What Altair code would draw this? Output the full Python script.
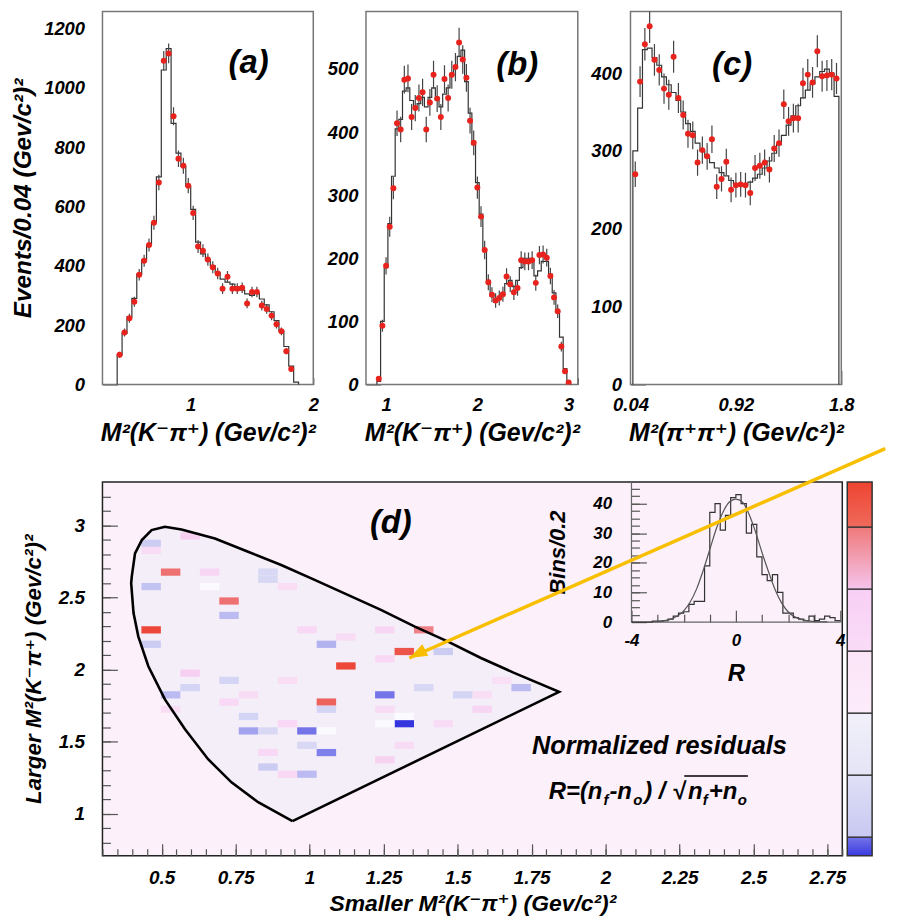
import altair as alt
import pandas as pd

FONT = "Liberation Sans, Arial, Helvetica, DejaVu Sans, sans-serif"
TICK = "#555555"
RED = "#e8231d"
GOLD = "#f7bf00"
LBL = "'' + datum.value"

# ---------------- values ----------------
# (a) M^2(K- pi+) projection, bins of 0.04
A_START, A_BIN = 0.40, 0.04
A_COUNTS = [100, 175, 223, 279, 370, 417, 470, 545, 681, 1091, 1116, 904, 761, 737,
            670, 578, 465, 451, 421, 395, 374, 323, 363, 323, 323, 326, 273, 312,
            312, 266, 254, 232, 203, 179, 112, 52]
A_FIT = [100, 172, 228, 290, 372, 420, 470, 545, 700, 1060, 1132, 880, 780, 735,
         668, 590, 480, 440, 420, 400, 378, 355, 345, 338, 328, 318, 305, 300,
         308, 288, 268, 245, 215, 180, 128, 62, 8]

# (b) M^2(K- pi+) (larger) projection
B_START, B_BIN = 0.90, 0.04
B_COUNTS = [9, 93, 188, 250, 311, 414, 404, 483, 485, 424, 438, 454, 463, 404, 447,
            491, 453, 424, 484, 454, 491, 503, 542, 515, 486, 418, 383, 312, 266,
            213, 162, 142, 133, 137, 143, 171, 159, 146, 153, 197, 195, 195, 197,
            161, 205, 206, 201, 172, 138, 116, 60, 21, 3]
B_FIT = [5, 100, 185, 255, 330, 405, 420, 465, 470, 450, 440, 445, 455, 440, 455,
         470, 450, 440, 460, 470, 490, 505, 520, 530, 480, 430, 380, 320, 270,
         215, 165, 140, 130, 135, 145, 160, 165, 155, 165, 185, 200, 200, 195,
         172, 180, 195, 195, 175, 145, 115, 75, 25, 2]

# (c) M^2(pi+ pi+) projection
C_START, C_BIN = 0.06, 0.04
C_COUNTS = [270, 389, 437, 460, 417, 404, 380, 372, 421, 368, 346, 322, 320, 285,
            301, 293, 315, 254, 264, 286, 250, 256, 257, 256, 246, 278, 281, 285,
            276, 303, 310, 360, 338, 342, 342, 387, 398, 388, 428, 396, 397, 398, 393]
C_FIT = [300, 355, 430, 432, 420, 410, 395, 385, 375, 365, 350, 335, 325, 310, 300,
         292, 285, 278, 272, 268, 262, 258, 256, 257, 260, 265, 270, 278, 287, 297,
         308, 320, 333, 345, 358, 368, 378, 386, 395, 402, 405, 400, 370]

# (d) residual cells: column / row index of the 2-D binning and residual R
D_X0, D_DX = 0.30, 0.0658
D_Y0, D_DY = 0.70, 0.05
CELL_COL = [3, 2, 6, 12, 11, 15, 16, 14, 15, 10, 11, 7, 5, 11, 14, 15,
            4, 2, 5, 9, 10, 12, 14, 14, 4, 9, 6, 7, 3, 9, 14, 19, 19, 17, 15, 8, 14, 9, 20,
            2, 2, 8, 8, 6, 11, 2, 3, 4, 21, 17, 11, 8, 8, 10, 6, 7, 18, 16, 10]
CELL_ROW = [39, 31, 35, 26, 21, 28, 31, 22, 18, 17, 14, 17, 37, 17, 18, 19,
            44, 42, 39, 37, 31, 30, 31, 27, 25, 24, 21, 22, 20, 18, 20, 20, 22, 18, 15, 14, 13, 11, 24,
            43, 37, 39, 38, 33, 29, 29, 22, 23, 23, 28, 20, 17, 12, 11, 24, 19, 22, 23, 15]
CELL_R = [3.0, 3.6, 3.0, 3.6, 3.2, 3.4, 2.8, -2.05, -2.3, -2.05, -2.0, -1.6, 0, 0, 0, 0,
          1.6, 1.2, 1.4, 1.1, 1.3, 1.2, 1.4, 1.3, 1.6, 1.1, 1.3, 1.2, 1.1, 1.3, 1.2, 1.4, 1.1, 1.2, 1.2, 1.3, 1.5, 1.3, 1.0,
          -1.1, -1.2, -0.9, -0.9, -1.3, -1.4, -1.1, -1.3, -1.0, -1.3, -1.1, -1.0, -0.9, -1.1, -1.3, -1.0, -1.0, -1.0, -0.9, -0.9]

# Dalitz boundary
DP_X = [0.942, 0.826, 0.736, 0.657, 0.579, 0.511, 0.455, 0.421, 0.405, 0.397, 0.399,
        0.410, 0.433, 0.466, 0.511, 0.567, 0.680, 0.792, 0.904, 1.017, 1.129, 1.241,
        1.354, 1.466, 1.579, 1.691, 1.843, 0.942]
DP_Y = [0.950, 1.081, 1.219, 1.379, 1.586, 1.793, 2.023, 2.230, 2.391, 2.598, 2.644,
        2.805, 2.897, 2.966, 2.989, 2.970, 2.908, 2.816, 2.724, 2.621, 2.517, 2.414,
        2.299, 2.195, 2.080, 1.977, 1.846, 0.950]
RG_X = [0.397, 0.405, 0.421, 0.455, 0.511, 0.579, 0.657, 0.736, 0.826, 0.942, 1.10, 1.30, 1.50, 1.70, 1.843]
RG_LO = [2.60, 2.39, 2.23, 2.02, 1.79, 1.59, 1.38, 1.22, 1.08, 0.95, 1.11, 1.31, 1.51, 1.70, 1.846]
RG_HI = [2.66, 2.78, 2.86, 2.95, 2.99, 2.97, 2.92, 2.86, 2.79, 2.70, 2.54, 2.36, 2.16, 1.97, 1.846]

# inset: distribution of R, bins of 0.2
I_START, I_BIN = -4.0, 0.2
I_COUNTS = [0, 0, 0, 0, 0.3, 0.3, 0.5, 1, 2, 3, 3.5, 6, 7, 7, 19, 37, 40, 31, 36, 42,
            43, 40, 30, 33, 22, 16, 14, 16, 10, 3, 3, 1.5, 1, 0.5, 2, 0.5, 1, 2, 1.5, 0.5]
G_X = [-3.3, -3.0, -2.5, -2.0, -1.75, -1.5, -1.25, -1.0, -0.75, -0.5, -0.25, 0.0,
       0.25, 0.5, 0.75, 1.0, 1.25, 1.5, 1.75, 2.0, 2.5, 3.0, 3.5]
G_Y = [0.0, 0.2, 1.0, 3.8, 6.8, 11.3, 17.5, 24.5, 31.5, 37.0, 40.5, 41.5, 40.5, 36.5,
       30.5, 23.5, 17.0, 11.0, 6.5, 3.5, 0.9, 0.2, 0.05]

# colour palette (residual levels)
R_DOMAIN = [-2.3, -2.0, -1.0, 0.0, 1.0, 2.0, 3.0, 3.73]
R_COLORS = ["#3535e0", "#8080ea", "#d4d4f4", "#fbfaff", "#f9e0f6", "#f5c6ee", "#ee7070", "#ec3e2c"]
CB_EDGES = [-2.3, -2, -1, 0, 1, 2, 3, 3.73]
CB_BOTTOM = ["#3a3ae2", "#c8c8f2", "#e4e4f6", "#fcecfa", "#f9dcf7", "#f5c4ec", "#ef6a5c"]
CB_TOP = ["#7474e8", "#e0e0f6", "#f1f0fa", "#fbe4f8", "#f8cff5", "#ef7a7a", "#ee4431"]


# ---------------- helpers ----------------
def axis(orient, values, size, offset=None, labels=True, title=None, lpad=4, tpad=4, **kw):
    off = -size if offset is None else offset
    return alt.Axis(orient=orient, values=values, tickSize=size, offset=off, domain=False,
                    grid=False, labels=labels, title=title, labelPadding=lpad,
                    titlePadding=tpad, labelExpr=LBL, labelFlush=False, labelOverlap=False,
                    tickColor=TICK, tickWidth=1.2, **kw)


def step_frame(start, binw, vals, close=True):
    xs, ys = ([start], [0]) if close else ([], [])
    for i, v in enumerate(vals):
        xs.append(start + binw * i)
        ys.append(v)
    end = start + binw * len(vals)
    xs.append(end)
    ys.append(vals[-1])
    if close:
        xs.append(end)
        ys.append(0)
    return pd.DataFrame({"x": xs, "y": ys, "o": list(range(len(xs)))})


def text_style(size):
    return dict(font=FONT, fontSize=size, fontWeight="bold", fontStyle="italic", color="black")


TOP_LBL = dict(labelFontSize=18.5)
TOP_TTL = dict(titleFontSize=25)


def hist_panel(start, binw, counts, fit, xdom, ydom, xr, xmaj, xmin, xmaj_size,
               ymaj, ymin, ylpad, xtitle, tag, tag_x, tag_y, ytitle=None, ytpad=8):
    x0 = xr[0]
    pts = pd.DataFrame({"x": [start + binw * (i + 0.5) for i in range(len(counts))], "n": counts})
    stp = step_frame(start, binw, fit)
    xs = alt.Scale(domain=xdom, range=list(xr), nice=False, zero=False)
    ys = alt.Scale(domain=ydom, nice=False, zero=False)
    frame = alt.Chart(pd.DataFrame({"x": [xdom[0]], "x2": [xdom[1]], "y": [ydom[0]], "y2": [ydom[1]]})
                      ).mark_rect(fill="white", stroke="#777777", strokeWidth=1.5).encode(
        x=alt.X("x:Q", scale=xs, axis=None), x2="x2:Q",
        y=alt.Y("y:Q", scale=ys, axis=None), y2="y2:Q")
    line = alt.Chart(stp).mark_line(interpolate="step-after", color="#333333", strokeWidth=1.2).encode(
        x=alt.X("x:Q", scale=xs, axis=axis("bottom", xmaj, xmaj_size, title=xtitle, lpad=11, tpad=7,
                                            **TOP_LBL, **TOP_TTL)),
        y=alt.Y("y:Q", scale=ys, axis=axis("left", ymaj, 15, offset=-(x0 + 15), title=ytitle,
                                            lpad=ylpad, tpad=ytpad, titleFontSize=24.5, **TOP_LBL)),
        order="o:Q")
    err = alt.Chart(pts).transform_calculate(
        lo="datum.n - sqrt(datum.n)", hi="datum.n + sqrt(datum.n)"
    ).mark_rule(color="#444444", strokeWidth=1.2, clip=True).encode(
        x=alt.X("x:Q", scale=xs, axis=None),
        y=alt.Y("lo:Q", scale=ys, axis=None), y2="hi:Q")
    dots = alt.Chart(pts).mark_circle(color=RED, size=36, opacity=1, clip=True).encode(
        x=alt.X("x:Q", scale=xs, axis=axis("bottom", xmin, 7, labels=False)),
        y=alt.Y("n:Q", scale=ys, axis=axis("left", ymin, 8, offset=-(x0 + 8), labels=False)))
    lab = alt.Chart(pd.DataFrame({"x": [tag_x], "y": [tag_y], "t": [tag]})).mark_text(
        align="center", baseline="middle", **text_style(33)).encode(
        x=alt.X("x:Q", scale=xs, axis=None), y=alt.Y("y:Q", scale=ys, axis=None), text="t:N")
    return alt.layer(frame, line, err, dots, lab).resolve_axis(x="independent", y="independent")


MK = "M²(K⁻π⁺) (Gev/c²)²"
pa = hist_panel(A_START, A_BIN, A_COUNTS, A_FIT, [0.28, 2.0], [0, 1257], (0, 212),
                [1, 2], [0.4, 0.6, 0.8, 1.2, 1.4, 1.6, 1.8], 7,
                [0, 200, 400, 600, 800, 1000, 1200], [v for v in range(50, 1251, 50)], 18,
                MK, "(a)", 1.472, 1083, ytitle="Events/0.04 (Gev/c²)²", ytpad=8)
pb = hist_panel(B_START, B_BIN, B_COUNTS, B_FIT, [0.78, 3.10], [0, 591], (265, 478),
                [1, 2, 3], [round(0.8 + 0.1 * i, 1) for i in range(24)], 9,
                [0, 100, 200, 300, 400, 500], [v for v in range(20, 591, 20)], 8,
                MK, "(b)", 2.437, 506)
pc = hist_panel(C_START, C_BIN, C_COUNTS, C_FIT, [0.04, 1.80], [0, 479], (531, 743),
                [0.04, 0.92, 1.8], [0.48, 1.36], 14,
                [0, 100, 200, 300, 400], [v for v in range(25, 476, 25)], 9,
                "M²(π⁺π⁺) (Gev/c²)²", "(c)", 0.888, 410)

top = alt.layer(pa, pb, pc).resolve_scale(x="independent", y="independent").properties(
    width=743, height=375, view=alt.ViewBackground(fill="white", stroke="white", strokeWidth=0))

# ---------------- panel (d) ----------------
dxs = alt.Scale(domain=[0.3, 2.8], nice=False, zero=False)
dys = alt.Scale(domain=[0.71, 3.30], nice=False, zero=False)

cells_df = pd.DataFrame({
    "x0": [D_X0 + D_DX * c for c in CELL_COL], "x1": [D_X0 + D_DX * (c + 1) for c in CELL_COL],
    "y0": [D_Y0 + D_DY * r for r in CELL_ROW], "y1": [D_Y0 + D_DY * (r + 1) for r in CELL_ROW],
    "r": CELL_R})
region_df = pd.DataFrame({"x": RG_X, "lo": RG_LO, "hi": RG_HI})
path_df = pd.DataFrame({"x": DP_X, "y": DP_Y, "o": list(range(len(DP_X)))})

D_XMAJ = [0.5, 0.75, 1, 1.25, 1.5, 1.75, 2, 2.25, 2.5, 2.75]
D_XMIN = [round(0.3 + 0.05 * i, 2) for i in range(51)]
D_YMAJ = [1, 1.5, 2, 2.5, 3]
D_YMIN = [round(0.8 + 0.1 * i, 1) for i in range(26)]

region = alt.Chart(region_df).mark_area(color="#f4eef9").encode(
    x=alt.X("x:Q", scale=dxs, axis=None), y=alt.Y("hi:Q", scale=dys, axis=None), y2="lo:Q")
cells = alt.Chart(cells_df).mark_rect().encode(
    x=alt.X("x0:Q", scale=dxs, axis=axis("bottom", D_XMAJ, 12, lpad=13, tpad=5,
                                          title="Smaller M²(K⁻π⁺) (Gev/c²)²",
                                          labelFontSize=19, titleFontSize=23)),
    x2="x1:Q",
    y=alt.Y("y0:Q", scale=dys, axis=axis("left", D_YMAJ, 15, lpad=18, tpad=13,
                                          title="Larger M²(K⁻π⁺) (Gev/c²)²",
                                          labelFontSize=19, titleFontSize=22.5)),
    y2="y1:Q",
    color=alt.Color("r:Q", scale=alt.Scale(domain=R_DOMAIN, range=R_COLORS, interpolate="rgb"), legend=None))
boundary = alt.Chart(path_df).mark_line(color="black", strokeWidth=2.6).encode(
    x=alt.X("x:Q", scale=dxs, axis=axis("bottom", D_XMIN, 7, labels=False)),
    y=alt.Y("y:Q", scale=dys, axis=axis("left", D_YMIN, 8, labels=False)),
    order="o:Q")


def dtext(x, y, t, size, align="center", baseline="middle", dx=0, dy=0):
    return alt.Chart(pd.DataFrame({"x": [x], "y": [y], "t": [t]})).mark_text(
        align=align, baseline=baseline, dx=dx, dy=dy, **text_style(size)).encode(
        x=alt.X("x:Q", scale=dxs, axis=None), y=alt.Y("y:Q", scale=dys, axis=None), text="t:N")


texts = [dtext(1.2745, 3.013, "(d)", 33), dtext(2.182, 1.469, "Normalized residuals", 25.5)]
FORMULA = [("R=(n", 0, 0, 24), ("f", 55, 6, 15), ("-n", 61, 0, 24), ("o", 85, 6, 15),
           (") / √", 96, 0, 24), ("n", 140, 0, 24), ("f", 155, 6, 15), ("+n", 161, 0, 24),
           ("o", 190, 6, 15)]
for t, ddx, ddy, sz in FORMULA:
    texts.append(dtext(1.808, 1.103, t, sz, align="left", baseline="alphabetic", dx=ddx, dy=ddy))
overline = alt.Chart(pd.DataFrame({"x": [2.266], "x2": [2.481], "y": [1.262]})).mark_rule(
    color="black", strokeWidth=1.5).encode(
    x=alt.X("x:Q", scale=dxs, axis=None), x2="x2:Q", y=alt.Y("y:Q", scale=dys, axis=None))

main = alt.layer(region, cells, boundary, *texts, overline).resolve_axis(x="independent", y="independent")

# inset
ixs = alt.Scale(domain=[-4, 4], range=[532, 742], nice=False, zero=False)
iys = alt.Scale(domain=[0, 47.3], range=[141, 0], nice=False, zero=False)
frame_df = pd.DataFrame({"x": [-4, -4], "x2": [-4, 4], "y": [0, 0], "y2": [47.3, 0]})
iframe = alt.Chart(frame_df).mark_rule(color="#666666", strokeWidth=1.2).encode(
    x=alt.X("x:Q", scale=ixs, axis=None), x2="x2:Q",
    y=alt.Y("y:Q", scale=iys, axis=None), y2="y2:Q")
ihist = alt.Chart(step_frame(I_START, I_BIN, I_COUNTS, close=False)).mark_line(
    interpolate="step-after", color="#333333", strokeWidth=1.2).encode(
    x=alt.X("x:Q", scale=ixs, axis=axis("bottom", [-4, 0, 4], 12, offset=-247, lpad=11, tpad=13,
                                         title="R", labelFontSize=17, titleFontSize=24)),
    y=alt.Y("y:Q", scale=iys, axis=axis("left", [0, 10, 20, 30, 40], 15, offset=-547, lpad=20,
                                         tpad=23, title="Bins/0.2", labelFontSize=17, titleFontSize=22)),
    order="o:Q")
igauss = alt.Chart(pd.DataFrame({"x": G_X, "y": G_Y})).mark_line(
    interpolate="monotone", color="#555555", strokeWidth=1.2).encode(
    x=alt.X("x:Q", scale=ixs, axis=axis("bottom", [-3, -2, -1, 1, 2, 3], 8, offset=-243, labels=False)),
    y=alt.Y("y:Q", scale=iys, axis=axis("left", [2.5 * k for k in range(1, 19)], 8, offset=-540,
                                         labels=False)))
inset = alt.layer(iframe, ihist, igauss).resolve_axis(x="independent", y="independent")

# colour bar, drawn to the right of panel (d)
cbs = alt.Scale(domain=[CB_EDGES[0], CB_EDGES[-1]], nice=False, zero=False)
cbx = alt.Scale(domain=[0, 1], range=[749, 774])
cb_layers = []
for i in range(len(CB_BOTTOM)):
    seg = pd.DataFrame({"l": [0], "r": [1], "lo": [CB_EDGES[i]], "hi": [CB_EDGES[i + 1]]})
    grad = alt.LinearGradient(gradient="linear", x1=0, x2=0, y1=1, y2=0,
                              stops=[alt.GradientStop(color=CB_BOTTOM[i], offset=0),
                                     alt.GradientStop(color=CB_TOP[i], offset=1)])
    cb_layers.append(alt.Chart(seg).mark_rect(fill=grad, strokeWidth=0).encode(
        x=alt.X("l:Q", scale=cbx, axis=None), x2="r:Q",
        y=alt.Y("lo:Q", scale=cbs, axis=None), y2="hi:Q"))
cb_sep = alt.Chart(pd.DataFrame({"v": CB_EDGES[1:-1], "l": [0] * 6, "r": [1] * 6})).mark_rule(
    color="#333333", strokeWidth=1.5).encode(
    x=alt.X("l:Q", scale=cbx, axis=None), x2="r:Q", y=alt.Y("v:Q", scale=cbs, axis=None))
cb_box = alt.Chart(pd.DataFrame({"l": [0], "r": [1], "lo": [CB_EDGES[0]], "hi": [CB_EDGES[-1]]})).mark_rect(
    fillOpacity=0, stroke="#333333", strokeWidth=1.5).encode(
    x=alt.X("l:Q", scale=cbx, axis=None), x2="r:Q",
    y=alt.Y("lo:Q", scale=cbs, axis=None), y2="hi:Q")
cbar = alt.layer(*cb_layers, cb_sep, cb_box)

# yellow arrow (in panel d coordinates)
arrow_df = pd.DataFrame({"x": [1.337, 2.945], "y": [2.080, 3.531]})
arrow_line = alt.Chart(arrow_df).mark_line(color=GOLD, strokeWidth=3.5).encode(
    x=alt.X("x:Q", scale=dxs, axis=None), y=alt.Y("y:Q", scale=dys, axis=None))
arrow_head = alt.Chart(arrow_df.iloc[[0]]).mark_point(
    shape="M0,0L-1,-0.36L-1,0.36Z", angle=153, size=1296, filled=True, color=GOLD, opacity=1,
    strokeWidth=0).encode(
    x=alt.X("x:Q", scale=dxs, axis=None), y=alt.Y("y:Q", scale=dys, axis=None))
arrow = alt.layer(arrow_line, arrow_head)

pdd = alt.layer(main, inset, cbar, arrow).resolve_scale(x="independent", y="independent").properties(
    width=744, height=376, view=alt.ViewBackground(fill="#fcf0fa", stroke="#222222", strokeWidth=1.5))

chart = alt.vconcat(top, pdd, spacing=98, bounds="flush").properties(
    padding={"left": 2, "top": 0, "right": 0, "bottom": 0})
chart = chart.configure(background="white").configure_axis(
    labelFont=FONT, labelFontSize=17, labelFontWeight="bold", labelFontStyle="italic",
    labelColor="black", titleFont=FONT, titleFontSize=24, titleFontWeight="bold",
    titleFontStyle="italic", titleColor="black")

chart.save("out.html", embed_options={"renderer": "svg", "actions": False})
